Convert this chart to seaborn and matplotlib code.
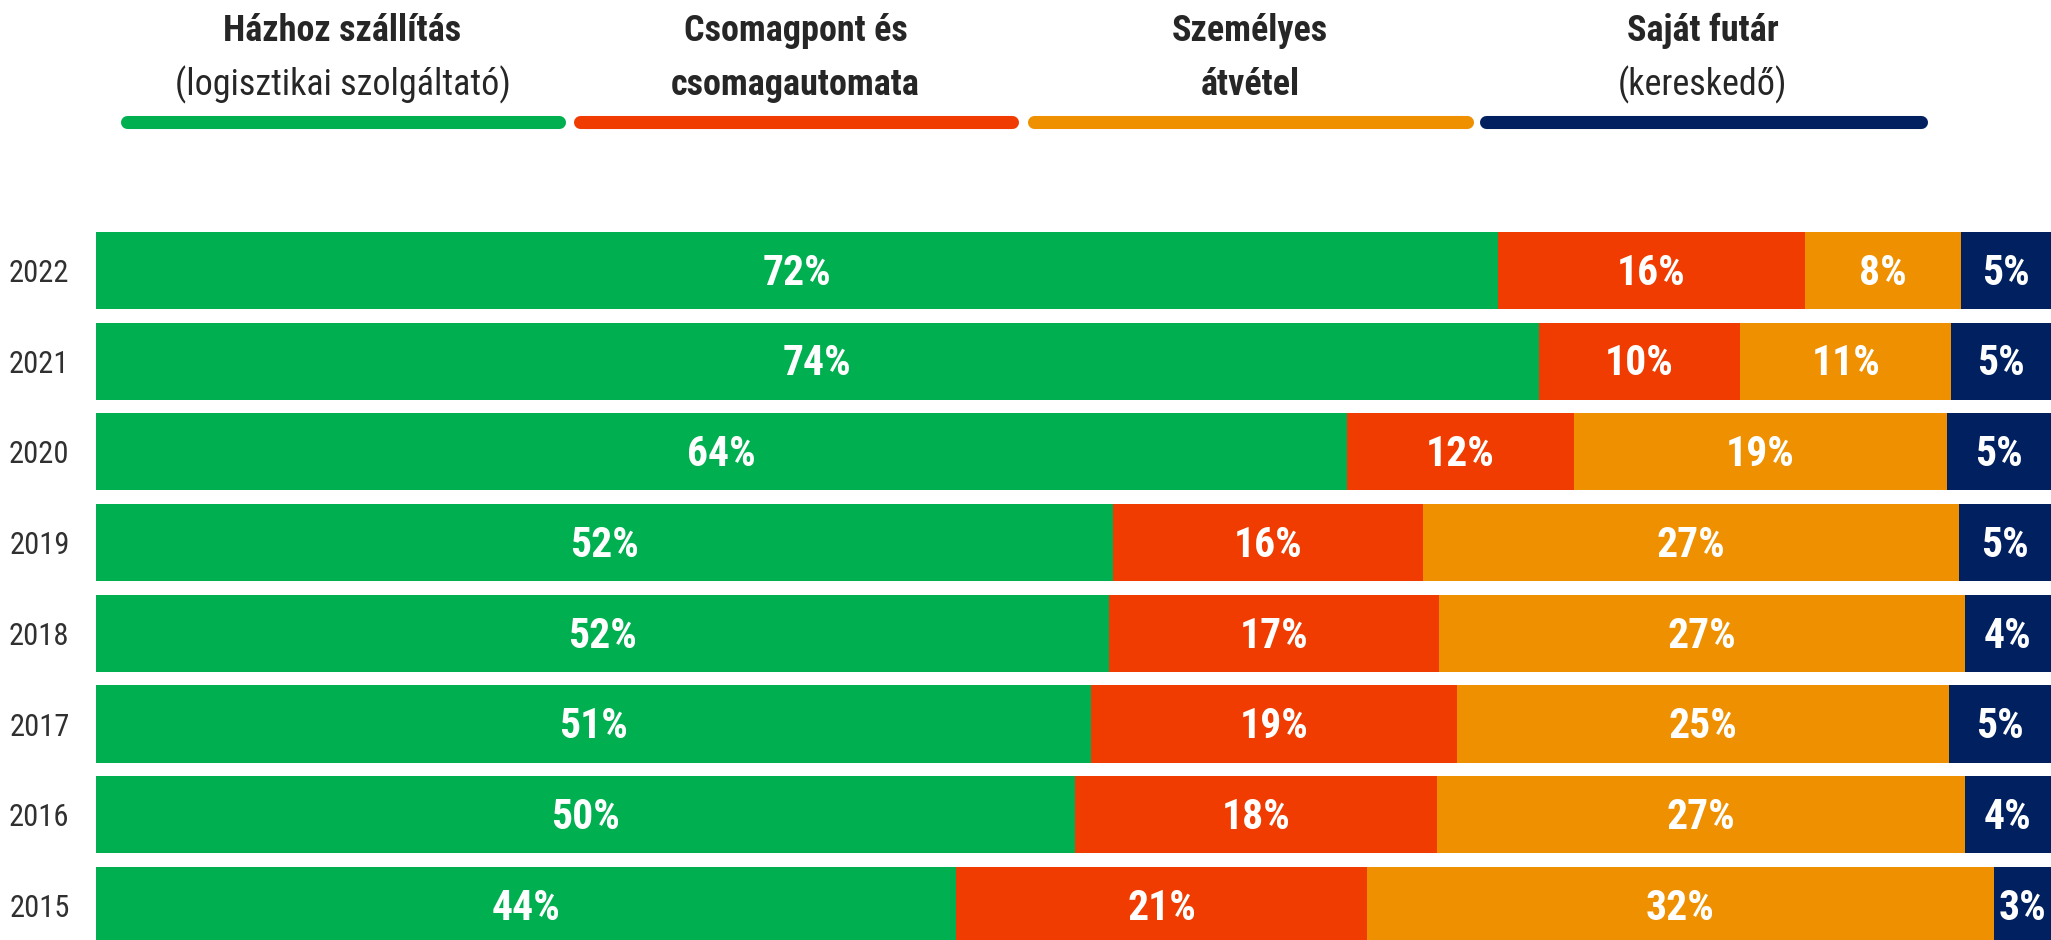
import matplotlib
matplotlib.use("Agg")
import matplotlib.pyplot as plt
from matplotlib.lines import Line2D
import pandas as pd
import seaborn as sns

years = ["2022", "2021", "2020", "2019", "2018", "2017", "2016", "2015"]
hazhoz = [71.7, 73.8, 64.0, 52.0, 51.8, 50.9, 50.1, 44.0]
csomagpont = [15.7, 10.3, 11.6, 15.9, 16.9, 18.7, 18.5, 21.0]
szemelyes = [8.0, 10.8, 19.1, 27.4, 26.9, 25.2, 27.0, 32.1]
sajat = [4.6, 5.1, 5.3, 4.7, 4.4, 5.2, 4.4, 2.9]

colors = ["#00B050", "#F03C00", "#EF9000", "#002060"]
legend_bold = ["Házhoz szállítás", "Csomagpont és", "Személyes", "Saját futár"]
legend_second = ["(logisztikai szolgáltató)", "csomagautomata", "átvétel", "(kereskedő)"]
second_bold = [False, True, True, False]

sns.set_style("white")
plt.rcParams["font.family"] = ["Roboto Condensed", "DejaVu Sans"]

df = pd.DataFrame({"year": years, "Házhoz": hazhoz, "Csomagpont": csomagpont,
                   "Személyes": szemelyes, "Saját": sajat})
series = ["Házhoz", "Csomagpont", "Személyes", "Saját"]
cum = df[series].cumsum(axis=1)

W, H = 2051, 940
fig = plt.figure(figsize=(W / 100, H / 100), dpi=100)
ax = fig.add_axes([96 / W, 0, 1 - 96 / W, 790 / H])

# stacked bars: draw cumulative totals from longest to shortest
for s, c in reversed(list(zip(series, colors))):
    sns.barplot(x=cum[s], y=df["year"], orient="h", color=c, saturation=1,
                width=0.85, ax=ax, linewidth=0)

for i in range(len(years)):
    start = 0
    for s in series:
        v = df.loc[i, s]
        ax.text(start + v / 2, i + 0.03, f"{round(v)}%", ha="center", va="center",
                color="white", fontsize=30, fontweight="bold")
        start += v

ax.set_xlim(0, 100)
ax.set_ylim(7.381, -1.329)
ax.set_xlabel("")
ax.set_ylabel("")
ax.set_xticks([])
sns.despine(ax=ax, left=True, bottom=True)
ax.tick_params(axis="y", length=0, pad=19, labelsize=22, labelcolor="#303030")

# legend header
spans = [(120, 565), (573, 1018), (1027, 1473), (1479, 1927)]
for (x0, x1), c, t1, t2, b2 in zip(spans, colors, legend_bold, legend_second, second_bold):
    r = 6.5
    fig.add_artist(Line2D([(x0 + r) / W, (x1 - r) / W], [1 - 122 / H, 1 - 122 / H],
                          color=c, linewidth=9.4, solid_capstyle="round"))
    xc = (x0 + x1) / 2 / W
    fig.text(xc, 1 - 31 / H, t1, ha="center", va="center", fontsize=26,
             fontweight="bold", color="#262626")
    fig.text(xc, 1 - 85 / H, t2, ha="center", va="center", fontsize=26,
             fontweight="bold" if b2 else "normal", color="#262626")

fig.savefig("out.png", dpi=100)
